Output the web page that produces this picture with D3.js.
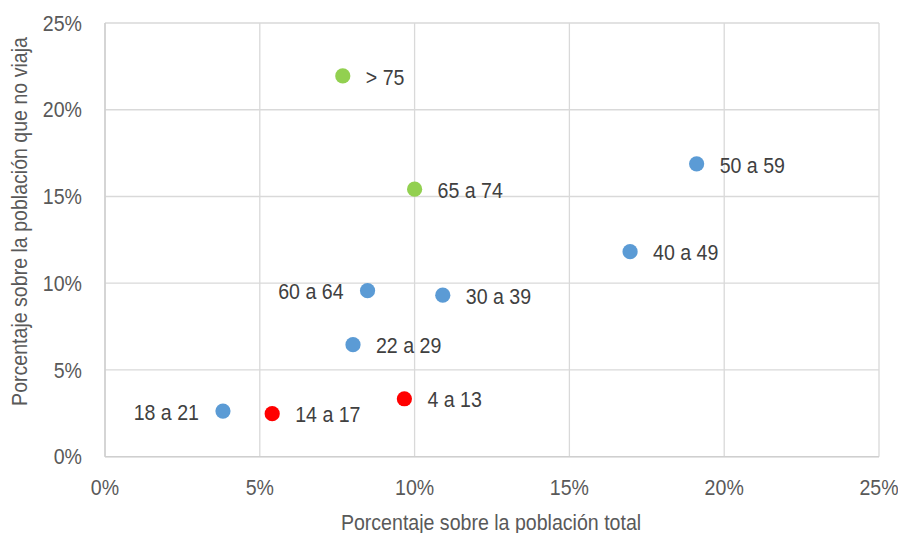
<!DOCTYPE html>
<html>
<head>
<meta charset="utf-8">
<script src="https://cdn.jsdelivr.net/npm/d3@7"></script>
<style>
  html, body { margin: 0; padding: 0; background: #fff; }
  svg text { font-family: "Liberation Sans", Arial, sans-serif; font-size: 22px; }
</style>
</head>
<body>
<svg id="chart" width="898" height="533"></svg>
<script>
const labels = ["> 75", "65 a 74", "50 a 59", "40 a 49", "60 a 64", "30 a 39", "22 a 29", "18 a 21", "14 a 17", "4 a 13"];
const xValues = [7.68, 10.0, 19.11, 16.96, 8.48, 10.91, 8.01, 3.81, 5.40, 9.67];
const yValues = [21.95, 15.42, 16.88, 11.82, 9.57, 9.31, 6.46, 2.63, 2.48, 3.34];
const groups = ["mayores", "mayores", "adultos", "adultos", "adultos", "adultos", "adultos", "adultos", "menores", "menores"];
const labelSide = ["right", "right", "right", "right", "left", "right", "right", "left", "right", "right"];
const tickValues = [0, 5, 10, 15, 20, 25];
const tickLabels = ["0%", "5%", "10%", "15%", "20%", "25%"];
const xTitle = "Porcentaje sobre la población total";
const yTitle = "Porcentaje sobre la población que no viaja";

const colors = { mayores: "#92d050", adultos: "#5b9bd5", menores: "#ff0000" };
const SX = 0.89; // horizontal condensation to emulate a narrow face

const svg = d3.select("#chart");
const m = { left: 105, right: 879, top: 23, bottom: 456.7 };
const x = d3.scaleLinear().domain([0, 25]).range([m.left, m.right]);
const y = d3.scaleLinear().domain([0, 25]).range([m.bottom, m.top]);

function narrowText(parent, px, py, str, anchor, fill, rotate) {
  const g = parent.append("g")
    .attr("transform", `translate(${px},${py})` + (rotate ? ` rotate(${rotate})` : "") + ` scale(${SX},1)`);
  g.append("text").attr("x", 0).attr("y", 0).attr("dy", "0.35em")
    .attr("text-anchor", anchor).attr("fill", fill).text(str);
  return g;
}

// grid
const grid = svg.append("g");
grid.selectAll("line.v").data(tickValues).join("line")
  .attr("x1", d => x(d)).attr("x2", d => x(d))
  .attr("y1", m.top).attr("y2", m.bottom)
  .attr("stroke", "#d9d9d9").attr("stroke-width", 1.3);
grid.selectAll("line.h").data(tickValues).join("line")
  .attr("x1", m.left).attr("x2", m.right)
  .attr("y1", d => y(d)).attr("y2", d => y(d))
  .attr("stroke", "#d9d9d9").attr("stroke-width", 1.3);

// axis lines
svg.append("line").attr("x1", m.left).attr("x2", m.right).attr("y1", m.bottom).attr("y2", m.bottom)
  .attr("stroke", "#cfcfcf").attr("stroke-width", 1.5);
svg.append("line").attr("x1", m.left).attr("x2", m.left).attr("y1", m.top).attr("y2", m.bottom)
  .attr("stroke", "#cfcfcf").attr("stroke-width", 1.5);

// tick labels
const tx = svg.append("g");
tickValues.forEach((v, i) => narrowText(tx, x(v), 487, tickLabels[i], "middle", "#595959"));
const ty = svg.append("g");
tickValues.forEach((v, i) => narrowText(ty, 82, y(v), tickLabels[i], "end", "#595959"));

// points
const data = labels.map((l, i) => ({ l, x: xValues[i], y: yValues[i], g: groups[i], side: labelSide[i] }));
svg.append("g").selectAll("circle").data(data).join("circle")
  .attr("cx", d => x(d.x)).attr("cy", d => y(d.y)).attr("r", 7.6)
  .attr("fill", d => colors[d.g]);

const lg = svg.append("g");
data.forEach(d => {
  const right = d.side === "right";
  narrowText(lg, right ? x(d.x) + 23 : x(d.x) - 24, y(d.y) + 1, d.l, right ? "start" : "end", "#404040");
});

// titles
narrowText(svg, 491, 522, xTitle, "middle", "#595959");
narrowText(svg, 19, 221.5, yTitle, "middle", "#595959", -90);
</script>
</body>
</html>
